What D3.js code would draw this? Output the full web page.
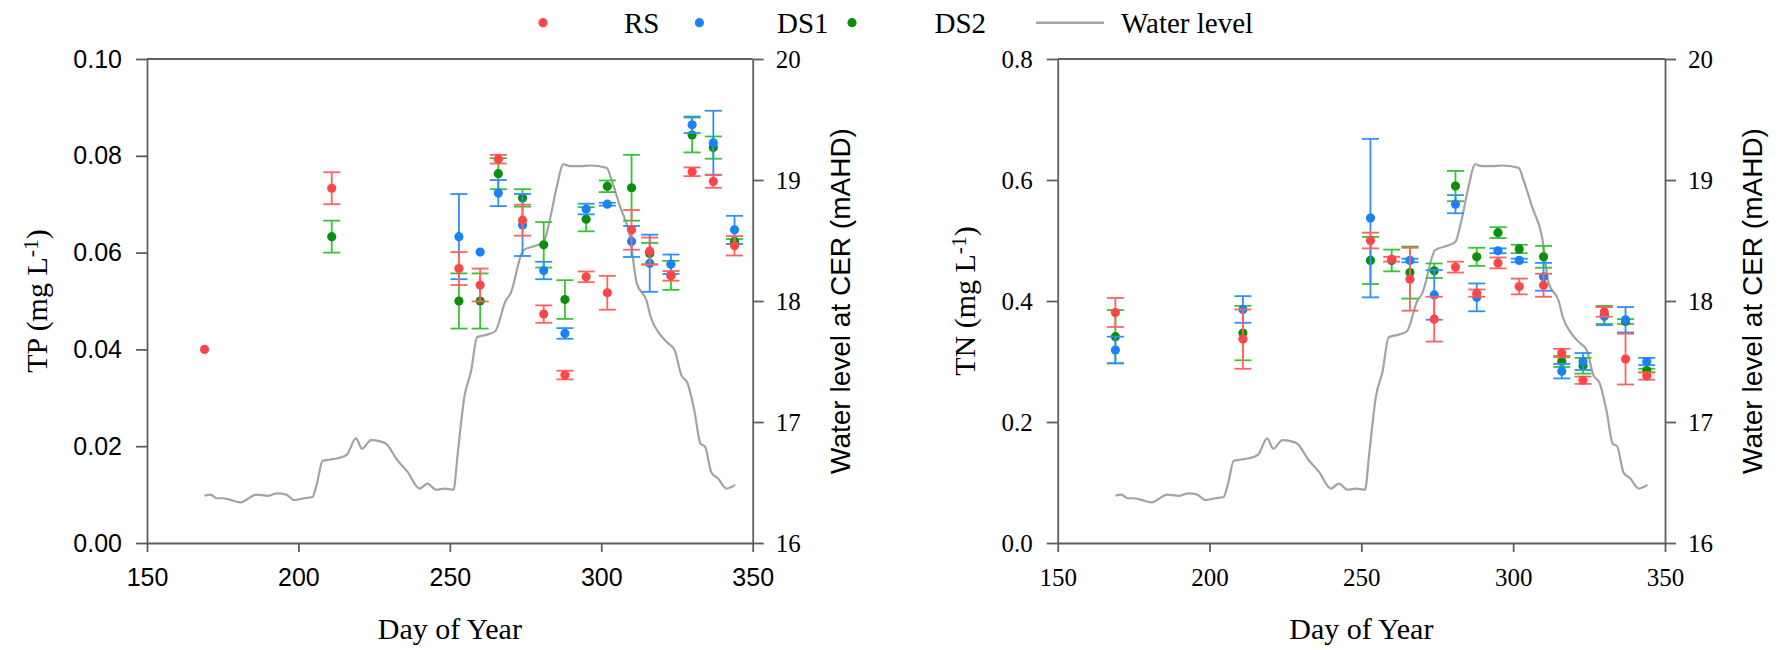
<!DOCTYPE html>
<html>
<head>
<meta charset="utf-8">
<script src="https://cdn.jsdelivr.net/npm/d3@7"></script>
<style>
  body { margin: 0; background: #fff; }
</style>
</head>
<body>
<script>
// sampling days (day of year)
const days = [169, 211, 253, 260, 266, 274, 281, 288, 295, 302, 310, 316, 323, 330, 337, 344];

// TP (mg L-1): means and +/- error, null = no sample
const tpRS     = [0.0400, 0.0733, 0.0567, 0.0533, 0.0793, 0.0667, 0.0473, 0.0347, 0.0550, 0.0517, 0.0647, 0.0603, 0.0552, 0.0767, 0.0747, 0.0614];
const tpRSerr  = [0,      0.0033, 0.0034, 0.0034, 0.0009, 0.0032, 0.0018, 0.0009, 0.0011, 0.0035, 0.0041, 0.0028, 0.0010, 0.0009, 0.0013, 0.0020];
const tpDS1    = [null,   null,   0.0633, 0.0601, 0.0723, 0.0657, 0.0563, 0.0433, 0.0690, 0.0700, 0.0623, 0.0578, 0.0576, 0.0864, 0.0827, 0.0647];
const tpDS1err = [0,      0,      0.0088, 0,      0.0027, 0.0064, 0.0018, 0.0011, 0.0011, 0.0003, 0.0032, 0.0059, 0.0020, 0.0017, 0.0066, 0.0029];
const tpDS2    = [null,   0.0633, 0.0500, 0.0500, 0.0763, 0.0713, 0.0616, 0.0503, 0.0669, 0.0737, 0.0734, 0.0598, 0.0553, 0.0843, 0.0817, 0.0623];
const tpDS2err = [0,      0.0033, 0.0057, 0.0057, 0.0032, 0.0018, 0.0047, 0.0040, 0.0025, 0.0012, 0.0068, 0.0022, 0.0030, 0.0036, 0.0023, 0.0005];

// TN (mg L-1)
const tnRS     = [0.381, 0.337, 0.500, 0.469, 0.436, 0.370, 0.456, 0.413, 0.463, 0.424, 0.426, 0.314, 0.269, 0.382, 0.304, 0.276];
const tnRSerr  = [0.024, 0.049, 0.013, 0.004, 0.052, 0.037, 0.009, 0.006, 0.009, 0.013, 0.019, 0.007, 0.006, 0.008, 0.042, 0.006];
const tnDS1    = [0.319, 0.386, 0.537, null,  0.467, 0.410, 0.560, 0.406, 0.483, 0.467, 0.440, 0.284, 0.300, 0.375, 0.369, 0.300];
const tnDS1err = [0.022, 0.022, 0.131, 0,     0.003, 0.041, 0.015, 0.023, 0.004, 0.003, 0.023, 0.012, 0.014, 0.015, 0.021, 0.006];
const tnDS2    = [0.341, 0.347, 0.467, 0.467, 0.447, 0.450, 0.590, 0.473, 0.513, 0.486, 0.473, 0.300, 0.293, 0.377, 0.366, 0.285];
const tnDS2err = [0.044, 0.045, 0.039, 0.018, 0.043, 0.012, 0.025, 0.015, 0.009, 0.007, 0.018, 0.009, 0.013, 0.015, 0.004, 0.003];

// water level at CER (mAHD)
const wlDays  = [169, 171, 173, 175, 177, 181, 183, 186, 190, 193, 196, 198.5, 202, 204.6, 206, 208, 210.5, 213, 216, 219, 221, 224, 227, 229, 232.5, 236, 240, 242.6, 245.5, 248.3, 251.2, 252.6, 254.8, 257, 259, 262, 265, 268.4, 270, 274.3, 278.7, 281, 283, 285.3, 287.5, 289.7, 293, 296.3, 301.8, 303.4, 306.2, 309.5, 311.7, 315, 316.3, 319.2, 322.1, 324.2, 326.4, 328.5, 330.7, 332.8, 334.2, 336.4, 338.5, 341.4, 344.2];
const wlLevel = [16.39, 16.40, 16.37, 16.37, 16.36, 16.335, 16.36, 16.40, 16.39, 16.41, 16.40, 16.355, 16.37, 16.38, 16.48, 16.68, 16.69, 16.70, 16.73, 16.865, 16.78, 16.85, 16.84, 16.82, 16.69, 16.59, 16.45, 16.49, 16.44, 16.45, 16.44, 16.74, 17.21, 17.42, 17.70, 17.72, 17.75, 18.00, 18.06, 18.42, 18.46, 18.49, 18.67, 18.945, 19.13, 19.115, 19.115, 19.12, 19.10, 19.00, 18.78, 18.53, 18.15, 18.00, 17.87, 17.73, 17.65, 17.595, 17.39, 17.32, 17.10, 16.82, 16.80, 16.58, 16.535, 16.45, 16.48];

const xTicks = [150, 200, 250, 300, 350];
const tpTicks = [0, 0.02, 0.04, 0.06, 0.08, 0.10];
const tnTicks = [0, 0.2, 0.4, 0.6, 0.8];
const wlTicks = [16, 17, 18, 19, 20];
const legendLabels = ["RS", "DS1", "DS2", "Water level"];

const colors = {
  RS:  {dot: "#ff4646", bar: "#ff6262"},
  DS1: {dot: "#1a82f7", bar: "#2f8ffa"},
  DS2: {dot: "#0b8e0b", bar: "#35c435"}
};
const serif = "'Liberation Serif', 'Times New Roman', serif";
const sans = "'Liberation Sans', Arial, sans-serif";
const axisColor = "#5e5e5e";
const plotTop = 59, plotBottom = 543;

const svg = d3.select("body").append("svg")
  .attr("width", 1783).attr("height", 650);

function supTitle(g, main, tail) {
  const t = g.append("text");
  t.append("tspan").text(main);
  t.append("tspan").attr("dy", "-0.42em").attr("font-size", "0.72em").text("-1");
  t.append("tspan").attr("dy", "0.3em").text(tail);
  return t;
}

function drawPanel(o) {
  const x = d3.scaleLinear().domain([150, 350]).range([o.left, o.right]);
  const y = d3.scaleLinear().domain(o.yDomain).range([plotBottom, plotTop]);
  const yw = d3.scaleLinear().domain([16, 20]).range([plotBottom, plotTop]);
  const g = svg.append("g");

  // water level
  g.append("path")
    .datum(d3.zip(wlDays, wlLevel))
    .attr("d", d3.line().curve(d3.curveMonotoneX).x(d => x(d[0])).y(d => yw(d[1])))
    .attr("fill", "none")
    .attr("stroke", "#a3a3a3")
    .attr("stroke-width", 2.2);

  // error bars + points, one series at a time
  o.series.forEach(s => {
    const pts = days.map((d, i) => ({d, v: s.mean[i], e: s.err[i]})).filter(p => p.v != null);
    const c = colors[s.key];
    const eb = g.append("g").attr("stroke", c.bar).attr("stroke-width", 1.8)
      .selectAll("g").data(pts.filter(p => p.e > 0)).join("g");
    eb.append("line")
      .attr("x1", p => x(p.d)).attr("x2", p => x(p.d))
      .attr("y1", p => y(p.v + p.e)).attr("y2", p => y(p.v - p.e));
    [1, -1].forEach(sg => {
      eb.append("line")
        .attr("x1", p => x(p.d) - 8.5).attr("x2", p => x(p.d) + 8.5)
        .attr("y1", p => y(p.v + sg * p.e)).attr("y2", p => y(p.v + sg * p.e));
    });
    g.append("g").selectAll("circle").data(pts).join("circle")
      .attr("cx", p => x(p.d)).attr("cy", p => y(p.v))
      .attr("r", 4.6).attr("fill", c.dot);
  });

  // axes
  const styleAxis = (a, font, size) => {
    a.attr("color", axisColor).attr("font-family", null).attr("font-size", null);
    a.selectAll("path, line").attr("stroke-width", 1.8);
    a.selectAll("text").attr("fill", "#000").style("font-family", font).style("font-size", size + "px");
  };
  const xa = g.append("g").attr("transform", `translate(0,${plotBottom})`)
    .call(d3.axisBottom(x).tickValues(xTicks).tickSize(9).tickPadding(16).tickSizeOuter(0));
  styleAxis(xa, o.tickFont, 25);
  const ya = g.append("g").attr("transform", `translate(${o.left},0)`)
    .call(d3.axisLeft(y).tickValues(o.yTicks).tickFormat(d3.format(o.fmt)).tickSize(11).tickPadding(14).tickSizeOuter(0));
  styleAxis(ya, o.tickFont, 25);
  const wa = g.append("g").attr("transform", `translate(${o.right},0)`)
    .call(d3.axisRight(yw).tickValues(wlTicks).tickFormat(d3.format("d")).tickSize(11).tickPadding(12).tickSizeOuter(0));
  styleAxis(wa, serif, 25);
  g.append("line")
    .attr("x1", o.left).attr("x2", o.right).attr("y1", plotTop).attr("y2", plotTop)
    .attr("stroke", axisColor).attr("stroke-width", 1.8);

  // titles
  g.append("text")
    .attr("x", (o.left + o.right) / 2).attr("y", 639)
    .attr("text-anchor", "middle").attr("font-family", serif).attr("font-size", 30)
    .text("Day of Year");
  const yt = g.append("g")
    .attr("transform", `translate(${o.titleX},${(plotTop + plotBottom) / 2}) rotate(-90)`)
    .attr("font-family", serif).attr("font-size", 30).attr("text-anchor", "middle");
  supTitle(yt, o.title + " (mg L", ")");
  g.append("text")
    .attr("transform", `translate(${o.right + 97},${(plotTop + plotBottom) / 2}) rotate(-90)`)
    .attr("text-anchor", "middle").attr("font-family", sans).attr("font-size", 28)
    .text("Water level at CER (mAHD)");
}

drawPanel({
  left: 147, right: 752.7, yDomain: [0, 0.1], yTicks: tpTicks, fmt: ".2f",
  tickFont: sans, title: "TP", titleX: 47,
  series: [
    {key: "DS2", mean: tpDS2, err: tpDS2err},
    {key: "DS1", mean: tpDS1, err: tpDS1err},
    {key: "RS",  mean: tpRS,  err: tpRSerr}
  ]
});

drawPanel({
  left: 1057.7, right: 1665, yDomain: [0, 0.8], yTicks: tnTicks, fmt: ".1f",
  tickFont: serif, title: "TN", titleX: 975,
  series: [
    {key: "DS2", mean: tnDS2, err: tnDS2err},
    {key: "DS1", mean: tnDS1, err: tnDS1err},
    {key: "RS",  mean: tnRS,  err: tnRSerr}
  ]
});

// legend
const lg = svg.append("g").attr("font-family", serif).attr("font-size", 29);
const dotX = [543, 699.4, 852];
const textX = [624, 777, 934.5, 1121];
["RS", "DS1", "DS2"].forEach((k, i) => {
  lg.append("circle").attr("cx", dotX[i]).attr("cy", 22.7).attr("r", 4.6).attr("fill", colors[k].dot);
});
lg.append("line").attr("x1", 1036).attr("x2", 1104).attr("y1", 22.7).attr("y2", 22.7)
  .attr("stroke", "#a3a3a3").attr("stroke-width", 2.4);
legendLabels.forEach((l, i) => {
  lg.append("text").attr("x", textX[i]).attr("y", 32.7).text(l);
});
</script>
</body>
</html>
